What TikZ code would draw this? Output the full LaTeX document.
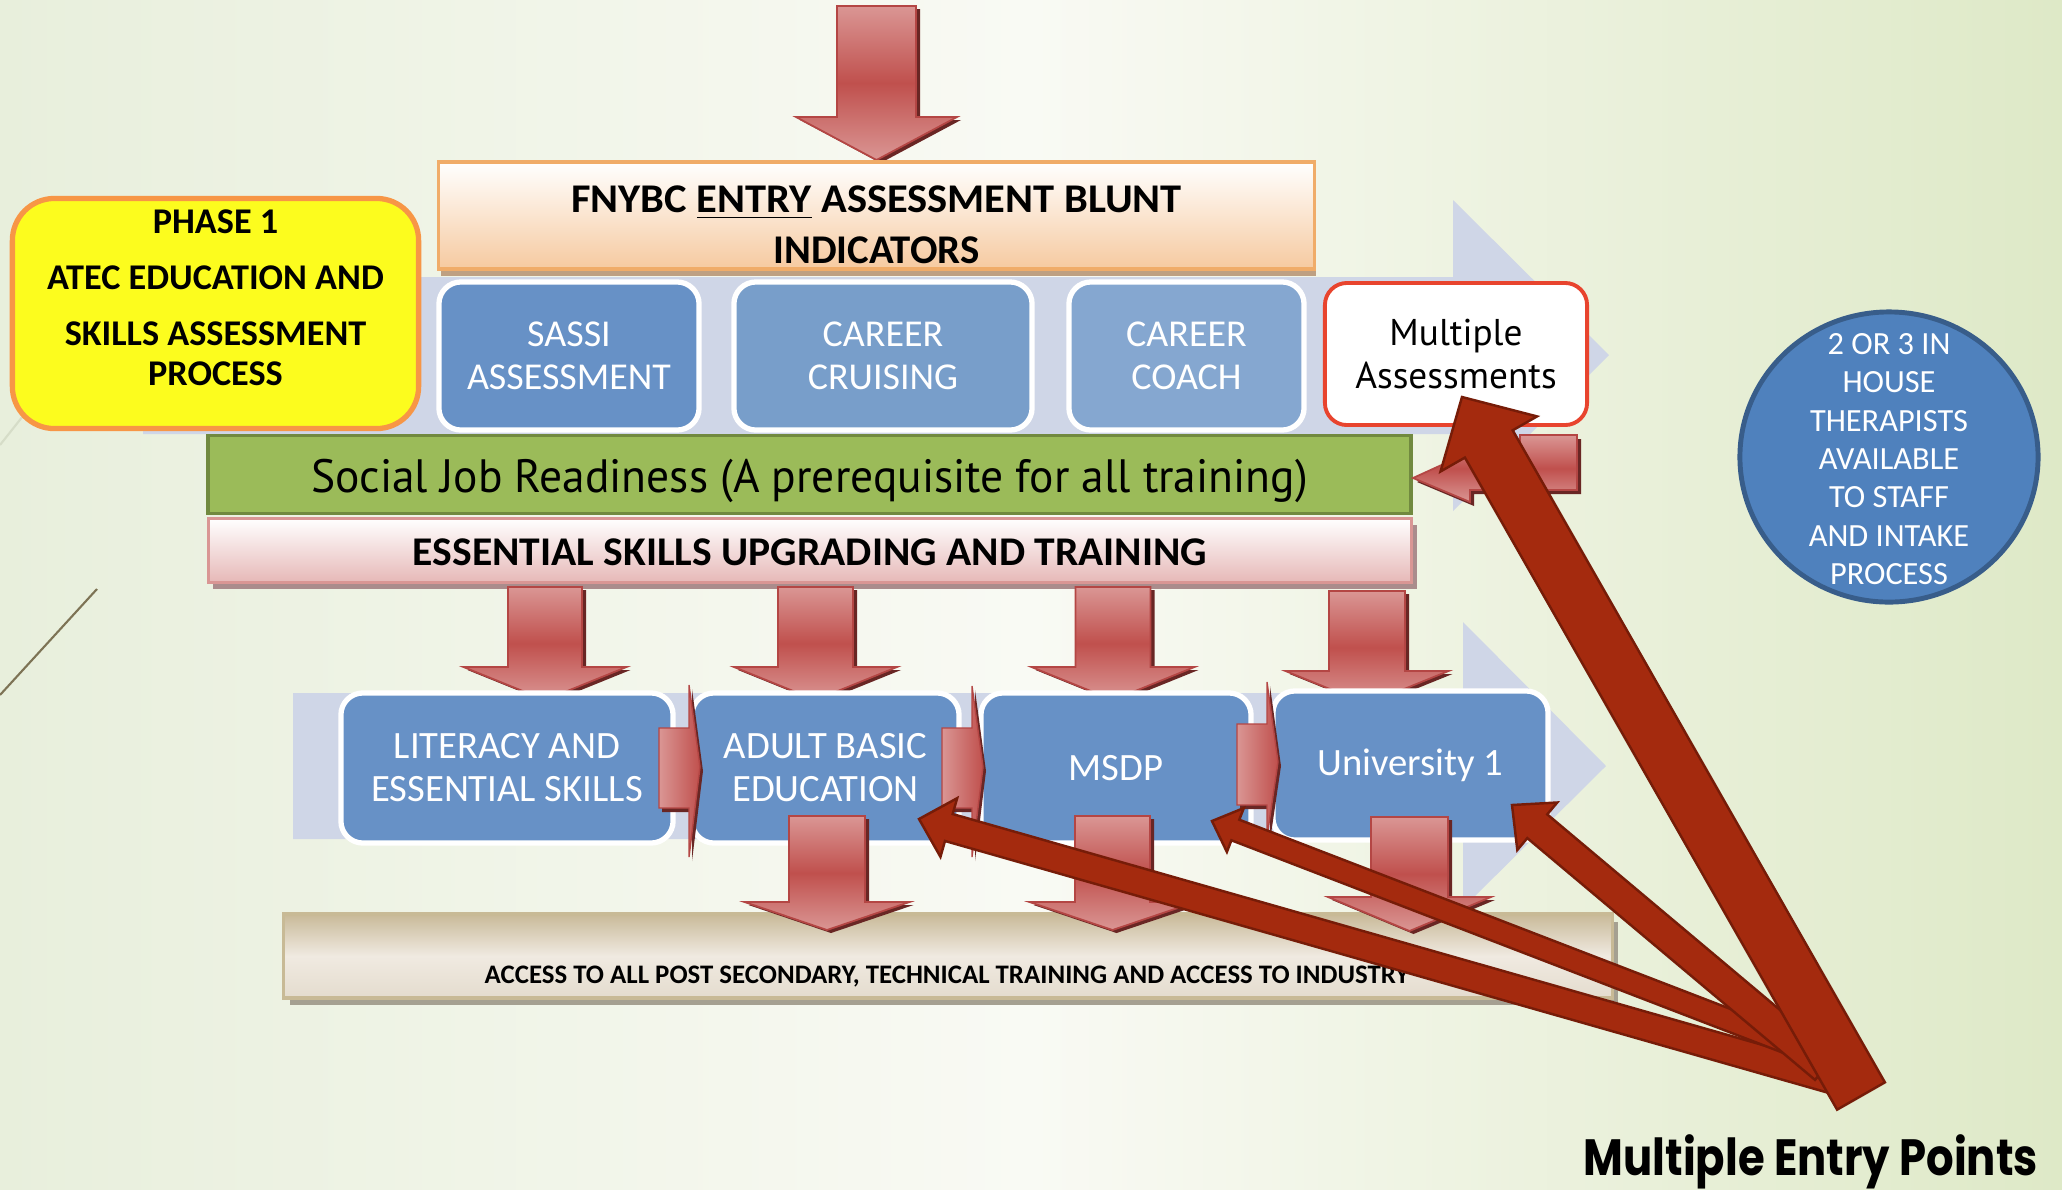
\documentclass[tikz,border=0pt]{standalone}
\usepackage{fontspec}
\usepackage{graphicx}
\setmainfont{Carlito}
\newfontfamily\ptsans{PT Sans}
\newfontfamily\popfont{Poppins}
\usetikzlibrary{calc,shapes.geometric}

\definecolor{bgL}{RGB}{232,239,220}
\definecolor{bgM}{RGB}{249,250,244}
\definecolor{bgR}{RGB}{222,233,199}
\definecolor{lav}{RGB}{207,214,231}
\definecolor{boxA}{RGB}{103,145,198}
\definecolor{boxB}{RGB}{120,158,202}
\definecolor{boxC}{RGB}{133,167,208}
\definecolor{circF}{RGB}{79,129,189}
\definecolor{circE}{RGB}{56,93,138}
\definecolor{yel}{RGB}{252,252,30}
\definecolor{orng}{RGB}{247,150,70}
\definecolor{grn}{RGB}{155,187,89}
\definecolor{grnE}{RGB}{113,137,63}
\definecolor{peach}{RGB}{246,202,160}
\definecolor{peachE}{RGB}{240,172,105}
\definecolor{pinkB}{RGB}{230,184,183}
\definecolor{pinkE}{RGB}{217,150,148}
\definecolor{tanT}{RGB}{200,185,152}
\definecolor{tanM}{RGB}{240,234,225}
\definecolor{tanB}{RGB}{228,220,206}
\definecolor{tanE}{RGB}{200,186,150}
\definecolor{arrL}{RGB}{218,150,148}
\definecolor{arrM}{RGB}{192,80,77}
\definecolor{arrE}{RGB}{180,70,68}
\definecolor{arrS}{RGB}{105,38,36}
\definecolor{drk}{RGB}{164,42,14}
\definecolor{drkE}{RGB}{118,28,8}
\definecolor{redB}{RGB}{232,68,46}
\definecolor{shdA}{RGB}{190,160,130}
\definecolor{shdB}{RGB}{170,140,140}
\definecolor{shdC}{RGB}{165,160,145}
\definecolor{lineD}{RGB}{125,115,85}
\definecolor{lineF}{RGB}{214,221,200}

\newcommand{\fitw}[2]{\resizebox{#1}{\height}{#2}}

% pink down arrow: name, cx, top, headtop, tip, half shaft, half head
\newcommand{\pinkdown}[7]{%
  \begin{scope}[shift={(4,3)}]
    \fill[arrS] ({#2-#6},#3) -- ({#2+#6},#3) -- ({#2+#6},#4) -- ({#2+#7},#4) -- (#2,#5) -- ({#2-#7},#4) -- ({#2-#6},#4) -- cycle;
  \end{scope}
  \path[pinkarr] ({#2-#6},#3) -- ({#2+#6},#3) -- ({#2+#6},#4) -- ({#2+#7},#4) -- (#2,#5) -- ({#2-#7},#4) -- ({#2-#6},#4) -- cycle;
  \coordinate (#1) at (#2,#5);
}
% small right arrow: name, left, right(shaft end), tip x, shaft top, shaft bottom, head top, head bottom, tip y
\newcommand{\pinkright}[9]{%
  \begin{scope}[shift={(3,4)}]
    \fill[arrS] (#2,#5) -- (#3,#5) -- (#3,#7) -- (#4,#9) -- (#3,#8) -- (#3,#6) -- (#2,#6) -- cycle;
  \end{scope}
  \path[draw=arrE, line width=0.4pt, left color=arrL, right color=arrM] (#2,#5) -- (#3,#5) -- (#3,#7) -- (#4,#9) -- (#3,#8) -- (#3,#6) -- (#2,#6) -- cycle;
  \coordinate (#1) at (#4,#9);
}
% dark block arrow: tail, tip, half shaft, half head, head length
\newcommand{\darkarrow}[5]{%
  \coordinate (#1-base) at ($(#2)!#5!(#1)$);
  \draw[darkarr] ($(#1)!#3!90:(#2)$) -- ($(#1-base)!#3!90:(#2)$) -- ($(#1-base)!#4!90:(#2)$) -- (#2)
     -- ($(#1-base)!#4!-90:(#2)$) -- ($(#1-base)!#3!-90:(#2)$) -- ($(#1)!#3!-90:(#2)$) -- cycle;
}

\tikzset{
  pinkarr/.style={draw=arrE, line width=0.5pt, top color=arrL, bottom color=arrL, middle color=arrM},
  darkarr/.style={fill=drk, draw=drkE, line width=0.7pt, line join=miter},
  bluebox/.style={draw=white, line width=1.5pt, rounded corners=0.22cm, text=white, align=center,
    inner sep=0pt, font=\fontsize{10.8}{12.2}\selectfont},
  lowbox/.style={bluebox, fill=boxA, minimum height=1.5cm, font=\fontsize{11}{12.2}\selectfont},
}

\begin{document}
\begin{tikzpicture}[x=0.01cm,y=-0.01cm]
\useasboundingbox (0,0) rectangle (2062,1190);
% background
\shade[left color=bgL, right color=bgR, middle color=bgM] (0,0) rectangle (2062,1190);
\draw[lineF, line width=0.6pt] (0,445) -- (190,205);
\draw[lineD, line width=0.6pt] (0,695) -- (97,589);

% lavender process bands
\fill[lav] (143,277) -- (1453,277) -- (1453,200) -- (1609,355) -- (1453,511) -- (1453,434) -- (143,434) -- cycle;
\fill[lav] (293,693) -- (1463,693) -- (1463,622) -- (1606,766) -- (1463,908) -- (1463,839) -- (293,839) -- cycle;

% top arrow
\pinkdown{topArr}{876.5}{6}{117}{160}{39.5}{80.5}

% FNYBC box
\fill[shdA] (441,172) rectangle (1316,276);
\node[draw=peachE, line width=0.9pt, top color=white, bottom color=peach, minimum width=8.75cm,
  minimum height=1.07cm, inner sep=0pt] (fny) at (876.5,215.5) {};
\node[font=\fontsize{11.6}{14.6}\selectfont\bfseries, align=center, inner sep=0pt] (fnyT) at (876.5,225)
  {\fitw{6.1cm}{FNYBC \underline{ENTRY} ASSESSMENT BLUNT}\\INDICATORS};

% assessment row
\node[bluebox, fill=boxA, minimum width=2.6cm, minimum height=1.48cm] (sassi) at (569,356) {SASSI\\ASSESSMENT};
\node[bluebox, fill=boxB, minimum width=2.98cm, minimum height=1.48cm] (cruise) at (883,356) {CAREER\\CRUISING};
\node[bluebox, fill=boxC, minimum width=2.35cm, minimum height=1.48cm] (coach) at (1186.5,356) {CAREER\\COACH};
\node[draw=redB, fill=white, line width=1.1pt, rounded corners=0.22cm, minimum width=2.62cm,
  minimum height=1.42cm, inner sep=0pt, align=center, font=\ptsans\fontsize{10.6}{12.5}\selectfont]
  (mult) at (1456,354) {Multiple\\Assessments};

% phase 1 box
\node[fill=yel, draw=orng, line width=1.5pt, rounded corners=0.42cm, minimum width=4.06cm,
  minimum height=2.3cm, inner sep=0pt] (phase) at (215.5,313.5) {};
\node[font=\fontsize{10.3}{11.4}\selectfont\bfseries, align=center, inner sep=0pt] (phaseT) at (215.5,298)
  {PHASE 1\\[4.5pt]ATEC EDUCATION AND\\[4.5pt]SKILLS ASSESSMENT\\PROCESS};

% social job readiness
\node[fill=grn, draw=grnE, line width=1.1pt, minimum width=12.02cm, minimum height=0.78cm, inner sep=0pt] (sjr) at (809.5,474.5) {};
\node[font=\ptsans\fontsize{13.3}{15}\selectfont, inner sep=0pt] (sjrT) at (809.5,481)
  {\fitw{9.96cm}{Social Job Readiness (A prerequisite for all training)}};

% small bent arrow into green bar
\begin{scope}[shift={(4,4)}]
\fill[arrS] (1577,435) -- (1577,490) -- (1470,490) -- (1470,502) -- (1413,478) -- (1470,452) -- (1470,462) -- (1520,462) -- (1520,435) -- cycle;
\end{scope}
\path[pinkarr] (1577,435) -- (1577,490) -- (1470,490) -- (1470,502) -- (1413,478) -- (1470,452) -- (1470,462) -- (1520,462) -- (1520,435) -- cycle;

% essential skills bar
\fill[shdB] (213,525) rectangle (1417,589);
\node[draw=pinkE, line width=0.9pt, top color=white, bottom color=pinkB, minimum width=12.02cm,
  minimum height=0.64cm, inner sep=0pt] (ess) at (810,550.5) {};
\node[font=\fontsize{11.6}{14}\selectfont\bfseries, inner sep=0pt] (essT) at (810,552)
  {\fitw{7.94cm}{ESSENTIAL SKILLS UPGRADING AND TRAINING}};

% arrows down to programs
\pinkdown{d1}{545}{587}{667}{700}{37}{81.5}
\pinkdown{d2}{815.5}{587}{667}{700}{37.5}{81.5}
\pinkdown{d3}{1113}{587}{667}{700}{37.5}{81.5}
\pinkdown{d4}{1367}{591}{671}{704}{38}{81.5}

% program boxes
\node[lowbox, minimum width=3.32cm] (lit) at (507,768) {LITERACY AND\\ESSENTIAL SKILLS};
\node[lowbox, minimum width=2.67cm] (abe) at (825.5,768) {ADULT BASIC\\EDUCATION};
\node[lowbox, minimum width=2.7cm] (msdp) at (1116,768) {MSDP};
\node[lowbox, minimum width=2.75cm, minimum height=1.49cm] (uni) at (1410.5,765.5) {University 1};

% small right arrows between programs
\pinkright{r1}{659}{689}{700}{728}{808}{685}{857}{767}
\pinkright{r2}{942}{972}{983}{728}{808}{686}{857}{767}
\pinkright{r3}{1237}{1267}{1278}{724}{805}{682}{837}{762}

% access bar
\fill[shdC] (290,922) rectangle (1618,1005);
\node[draw=tanE, line width=0.9pt, top color=tanT, bottom color=tanB, middle color=tanM, minimum width=13.28cm,
  minimum height=0.84cm, inner sep=0pt] (acc) at (948,956) {};
\node[font=\fontsize{7.6}{9}\selectfont\bfseries, inner sep=0pt] (accT) at (947,977)
  {\fitw{9.24cm}{ACCESS TO ALL POST SECONDARY, TECHNICAL TRAINING AND ACCESS TO INDUSTRY}};

% arrows down to access
\pinkdown{b1}{827}{816}{902}{930}{38}{82.5}
\pinkdown{b2}{1112.5}{816}{902}{930}{37.5}{83}
\pinkdown{b3}{1409.5}{817}{897}{931}{38.5}{81.5}

% therapists circle
\node[ellipse, fill=circF, draw=circE, line width=1.4pt, minimum width=2.98cm, minimum height=2.9cm,
  inner sep=0pt] (circ) at (1889,457) {};
\node[text=white, font=\fontsize{9.2}{10.9}\selectfont, align=center, inner sep=0pt] (circT) at (1889,459)
  {2 OR 3 IN\\HOUSE\\THERAPISTS\\AVAILABLE\\TO STAFF\\AND INTAKE\\PROCESS};

% multiple entry arrows
\coordinate (tD) at (1845,1083); \coordinate (hD) at (919,819);
\coordinate (tC) at (1835,1061); \coordinate (hC) at (1212,821);
\coordinate (tB) at (1825,1068); \coordinate (hB) at (1512,805);
\coordinate (tA) at (1861,1096); \coordinate (hA) at (1462,397);
\darkarrow{tD}{hD}{0.14cm}{0.305cm}{0.31cm}
\darkarrow{tC}{hC}{0.11cm}{0.235cm}{0.25cm}
\darkarrow{tB}{hB}{0.155cm}{0.31cm}{0.33cm}
\darkarrow{tA}{hA}{0.275cm}{0.555cm}{0.54cm}

% caption
\node[anchor=base west, inner sep=0pt] (mep) at (1583,1175)
  {\fitw{4.54cm}{\popfont\fontsize{14.5}{17}\selectfont\bfseries Multiple Entry Points}};
\end{tikzpicture}
\end{document}
